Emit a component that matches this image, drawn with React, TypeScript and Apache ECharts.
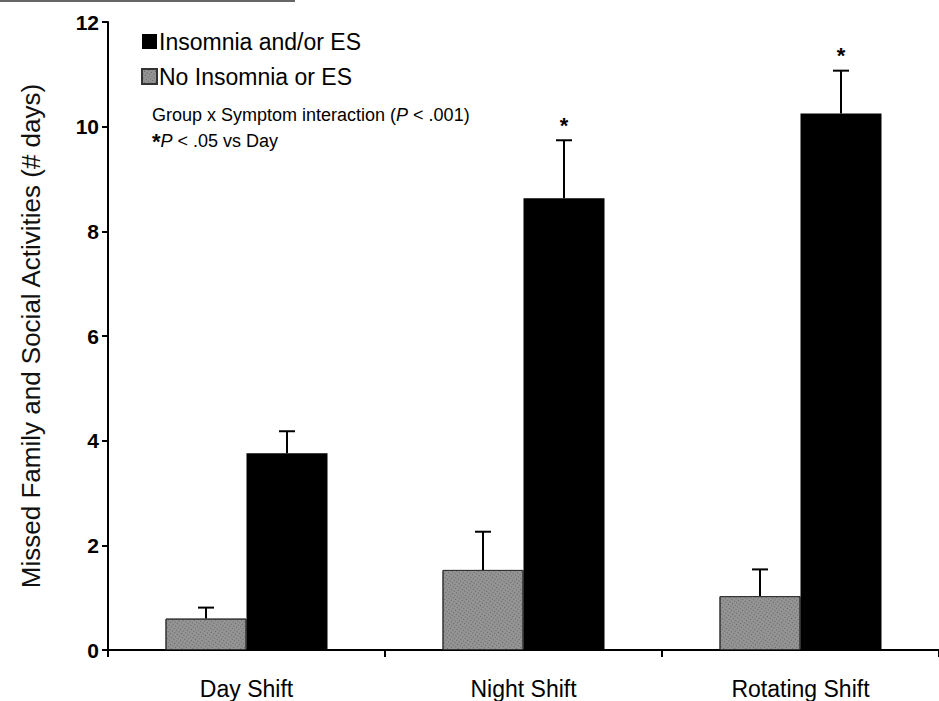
import React, { useEffect, useRef } from "react";
import * as echarts from "echarts";

const categories = ["Day Shift", "Night Shift", "Rotating Shift"];
const noInsomniaMean = [0.6, 1.53, 1.03];
const noInsomniaUpper = [0.81, 2.26, 1.54];
const insomniaMean = [3.76, 8.63, 10.25];
const insomniaUpper = [4.18, 9.74, 11.07];
const insomniaSig = [false, true, true];
const yTicks = { min: 0, max: 12, interval: 2 };

const FONT = "'Liberation Sans', Arial, Helvetica, sans-serif";
const BAR_W = 81;

export default function App() {
  const ref = useRef<HTMLDivElement>(null);
  useEffect(() => {
    document.body.style.margin = "0";
    const chart = echarts.init(ref.current!, null, { renderer: "svg" });

    const errData = (means: number[], uppers: number[], sig: boolean[] | null) =>
      means.map((m, i) => [i, m, uppers[i], sig && sig[i] ? 1 : 0]);

    const makeErr = (name: string, offset: number, data: any[]) => ({
      type: "custom",
      name,
      silent: true,
      z: 5,
      data,
      renderItem: (params: any, api: any) => {
        const idx = api.value(0);
        const base = api.coord([idx, api.value(1)]);
        const top = api.coord([idx, api.value(2)]);
        const x = base[0] + offset;
        const children: any[] = [
          { type: "line", shape: { x1: x, y1: base[1], x2: x, y2: top[1] }, style: { stroke: "#000", lineWidth: 2 } },
          { type: "line", shape: { x1: x - 8, y1: top[1], x2: x + 8, y2: top[1] }, style: { stroke: "#000", lineWidth: 2 } },
        ];
        if (api.value(3)) {
          children.push({
            type: "text",
            x,
            y: top[1] - 4,
            style: { text: "*", fontSize: 22, fontWeight: "bold", fontFamily: FONT, fill: "#000", align: "center", verticalAlign: "bottom" },
          });
        }
        return { type: "group", children };
      },
    });

    chart.setOption({
      animation: false,
      backgroundColor: "#fff",
      grid: { left: 108, top: 22, right: -9, bottom: 51 },
      legend: {
        data: ["Insomnia and/or ES", "No Insomnia or ES"],
        orient: "vertical",
        left: 136,
        top: 25,
        icon: "rect",
        itemWidth: 15,
        itemHeight: 15,
        itemGap: 12,
        selectedMode: false,
        textStyle: { fontSize: 23, color: "#000", fontFamily: FONT, padding: [0, 0, 0, -3] },
      },
      xAxis: {
        type: "category",
        data: categories,
        axisLine: { lineStyle: { color: "#000", width: 2 } },
        axisTick: { show: true, length: 7, lineStyle: { color: "#000", width: 2 } },
        axisLabel: { fontSize: 23, color: "#000", fontFamily: FONT, margin: 27 },
      },
      yAxis: {
        type: "value",
        min: yTicks.min,
        max: yTicks.max,
        interval: yTicks.interval,
        name: "Missed Family and Social Activities (# days)",
        nameLocation: "middle",
        nameGap: 64,
        nameTextStyle: { fontSize: 26, color: "#111", fontFamily: FONT },
        axisLine: { show: true, lineStyle: { color: "#000", width: 2 } },
        axisTick: { show: true, length: 6, lineStyle: { color: "#000", width: 2 } },
        splitLine: { show: false },
        axisLabel: { fontSize: 21, fontWeight: "bold", color: "#000", fontFamily: FONT, margin: 9 },
      },
      series: [
        {
          type: "bar",
          name: "No Insomnia or ES",
          data: noInsomniaMean,
          barWidth: BAR_W,
          barGap: "0%",
          itemStyle: {
            color: "#949494",
            borderColor: "#333",
            borderWidth: 1,
            decal: {
              symbol: "rect",
              symbolSize: 1,
              color: "rgba(50,50,50,0.5)",
              dashArrayX: [1, 2],
              dashArrayY: [1, 2],
              rotation: 0.6,
            },
          },
        },
        {
          type: "bar",
          name: "Insomnia and/or ES",
          data: insomniaMean,
          barWidth: BAR_W,
          barGap: "0%",
          itemStyle: { color: "#000" },
        },
        makeErr("err-no", -BAR_W / 2, errData(noInsomniaMean, noInsomniaUpper, null)),
        makeErr("err-ins", BAR_W / 2, errData(insomniaMean, insomniaUpper, insomniaSig)),
      ],
      graphic: [
        { type: "line", shape: { x1: 0, y1: 1, x2: 295, y2: 1 }, style: { stroke: "#666", lineWidth: 2 } },
        {
          type: "text",
          left: 152,
          top: 106,
          style: {
            text: "{n|Group x Symptom interaction (}{i|P}{n| < .001)}\n{s|*}{i|P}{n| < .05 vs Day}",
            fontFamily: FONT,
            fill: "#000",
            rich: {
              n: { fontSize: 18, fontFamily: FONT, lineHeight: 26 },
              i: { fontSize: 18, fontFamily: FONT, fontStyle: "italic", lineHeight: 26 },
              s: { fontSize: 22, fontWeight: "bold", fontFamily: FONT, lineHeight: 26 },
            },
          },
        },
      ],
    });
    return () => chart.dispose();
  }, []);
  return <div ref={ref} style={{ width: 939, height: 701 }} />;
}
